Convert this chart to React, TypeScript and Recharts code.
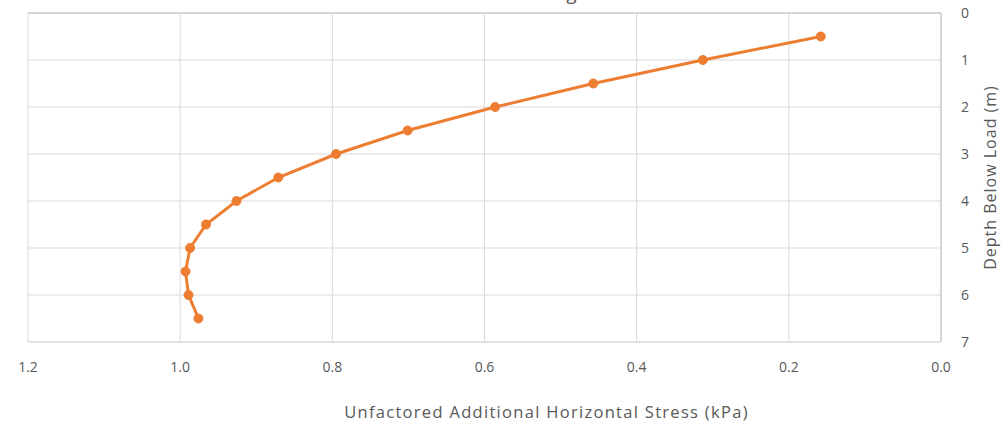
import React from "react";
import { LineChart, Line, XAxis, YAxis, CartesianGrid, ReferenceLine } from "recharts";

// Depth below the load (m) and the matching unfactored additional horizontal stress (kPa)
const depths = [0.5, 1.0, 1.5, 2.0, 2.5, 3.0, 3.5, 4.0, 4.5, 5.0, 5.5, 6.0, 6.5];
const stresses = [0.158, 0.313, 0.457, 0.586, 0.701, 0.795, 0.871, 0.926, 0.966, 0.987, 0.993, 0.989, 0.976];

const stressTicks = [0, 0.2, 0.4, 0.6, 0.8, 1.0, 1.2];
const depthTicks = [0, 1, 2, 3, 4, 5, 6, 7];

const data = depths.map((d, i) => ({ depth: d, stress: stresses[i] }));

const FONT = "'Open Sans', sans-serif";
const TEXT = "#595959";
const ORANGE = "#ED7D31";

export default function App() {
  return (
    <div style={{ position: "absolute", left: 0, top: 0, width: 1003, height: 427, background: "#fff", overflow: "hidden" }}>
      <div
        style={{
          position: "absolute",
          top: -17,
          left: 0,
          width: 1003,
          textAlign: "center",
          fontFamily: FONT,
          fontSize: 19,
          color: TEXT,
          lineHeight: "20px",
        }}
      >
        <span style={{ position: "relative", left: 40 }}>Loading</span>
      </div>
      <LineChart
        layout="vertical"
        width={1003}
        height={427}
        data={data}
        margin={{ top: 13, right: 0, bottom: 0, left: 28 }}
      >
        <CartesianGrid stroke="#d9d9d9" strokeWidth={1} horizontalValues={depthTicks} verticalValues={stressTicks} />
        <XAxis
          type="number"
          domain={[0, 1.2]}
          ticks={stressTicks}
          reversed
          allowDataOverflow
          tickFormatter={(v: number) => v.toFixed(1)}
          axisLine={{ stroke: "#d9d9d9" }}
          tickLine={false}
          tickSize={0}
          tickMargin={20}
          height={85}
          tick={{ fill: TEXT, fontSize: 14, fontFamily: FONT }}
          label={{ value: "Unfactored Additional Horizontal Stress (kPa)", position: "insideBottom", offset: 9, dx: 62, fill: TEXT, fontSize: 16.5, fontFamily: FONT, style: { letterSpacing: 1.3 } }}
        />
        <YAxis
          type="number"
          dataKey="depth"
          orientation="right"
          domain={[0, 7]}
          ticks={depthTicks}
          axisLine={{ stroke: "#bfbfbf" }}
          tickLine={false}
          tickSize={0}
          tickMargin={20}
          width={62}
          tick={{ fill: TEXT, fontSize: 14, fontFamily: FONT, textAnchor: "start" }}
          label={{ value: "Depth Below Load (m)", angle: -90, position: "insideRight", offset: 13, fill: TEXT, fontSize: 16, fontFamily: FONT, style: { textAnchor: "middle", letterSpacing: 1 } }}
        />
        <ReferenceLine y={0} stroke="#bfbfbf" strokeWidth={1} />
        <Line
          type="linear"
          dataKey="stress"
          stroke={ORANGE}
          strokeWidth={3}
          dot={{ r: 4.5, fill: ORANGE, stroke: ORANGE, strokeWidth: 1 }}
          activeDot={false}
          isAnimationActive={false}
        />
      </LineChart>
    </div>
  );
}
